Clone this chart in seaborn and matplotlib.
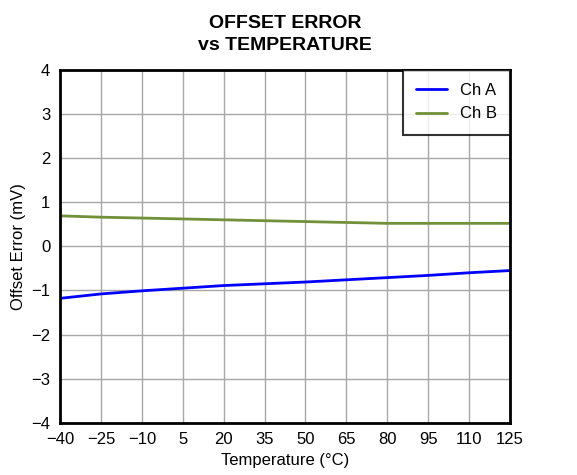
import numpy as np
import pandas as pd
import matplotlib
matplotlib.use("Agg")
import matplotlib.pyplot as plt
import seaborn as sns

# Data
temperature = [-40, -25, -10, 5, 20, 35, 50, 65, 80, 95, 110, 125]
ch_a = [-1.18, -1.08, -1.01, -0.95, -0.89, -0.85, -0.81, -0.76, -0.71, -0.66, -0.60, -0.55]
ch_b = [0.69, 0.66, 0.64, 0.62, 0.60, 0.58, 0.56, 0.54, 0.52, 0.52, 0.52, 0.52]
x_ticks = [-40, -25, -10, 5, 20, 35, 50, 65, 80, 95, 110, 125]
y_ticks = [-4, -3, -2, -1, 0, 1, 2, 3, 4]

df = pd.DataFrame({"Temperature": temperature * 2,
                   "Offset": ch_a + ch_b,
                   "Channel": ["Ch A"] * len(ch_a) + ["Ch B"] * len(ch_b)})

sns.set_style("white")
plt.rcParams['font.family'] = ['Liberation Sans', 'DejaVu Sans']
plt.rcParams['text.color'] = 'black'
plt.rcParams['axes.labelcolor'] = 'black'
plt.rcParams['xtick.color'] = 'black'
plt.rcParams['ytick.color'] = 'black'

fig, ax = plt.subplots(figsize=(5.77, 4.75), dpi=100)
sns.lineplot(data=df, x="Temperature", y="Offset", hue="Channel",
             palette={"Ch A": "#0000ff", "Ch B": "#71903a"}, linewidth=2, ax=ax)

ax.set_xlim(-40, 125)
ax.set_ylim(-4, 4)
ax.set_xticks(x_ticks)
ax.set_yticks(y_ticks)
ax.set_xticklabels([str(t).replace('-', '\u2212') for t in x_ticks], fontsize=12)
ax.set_yticklabels([str(t).replace('-', '\u2212') for t in y_ticks], fontsize=12)
ax.grid(True, color='#a8a8a8', linewidth=1)
ax.tick_params(axis='x', length=0, pad=7)
ax.tick_params(axis='y', length=0, pad=7)
for s in ax.spines.values():
    s.set_color('black')
    s.set_linewidth(2)

ax.set_xlabel('Temperature (\u00b0C)', fontsize=12, labelpad=4)
ax.set_ylabel('Offset Error (mV)', fontsize=12, labelpad=4)
ax.set_title('OFFSET ERROR\nvs TEMPERATURE', fontsize=14, fontweight='bold',
             pad=14, linespacing=1.45)

leg = ax.legend(loc='upper right', fontsize=12, frameon=True, fancybox=False,
                borderaxespad=0, handlelength=1.85, borderpad=0.8,
                labelspacing=0.5, handletextpad=0.75, title=None)
leg.get_frame().set_edgecolor('black')
leg.get_frame().set_linewidth(1.5)

plt.subplots_adjust(left=0.104, right=0.884, top=0.853, bottom=0.11)
plt.savefig('out.png', dpi=100)
